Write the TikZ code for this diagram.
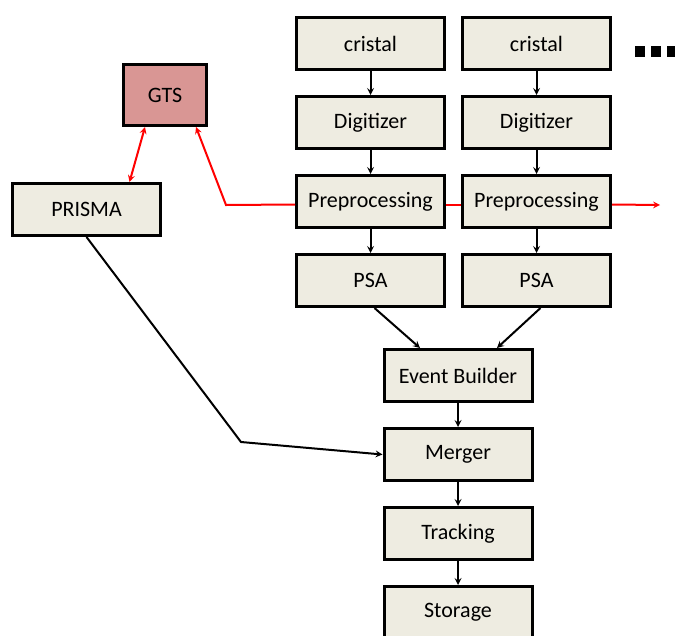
\documentclass[tikz,border=0pt]{standalone}
\usepackage{fontspec}
\setmainfont{Carlito}
\usetikzlibrary{arrows, positioning}
\definecolor{boxfill}{HTML}{EEECE1}
\definecolor{gtsfill}{HTML}{D99694}
\tikzstyle{graybox} = [rectangle, minimum width=148pt, minimum height=52pt, line width=3pt, draw=black, fill=boxfill, font=\fontsize{22}{26}\selectfont]
\tikzstyle{gtsbox} = [rectangle, minimum width=83pt, minimum height=61pt, line width=3pt, draw=black, fill=gtsfill, font=\fontsize{22}{26}\selectfont]
\tikzstyle{arrow} = [line width=2pt,->,>=stealth]
\tikzstyle{redarrow} = [line width=2pt,->,>=stealth, red]
\begin{document}
\begin{tikzpicture}[x=1pt, y=-1pt, node distance=24pt]
      \useasboundingbox (0,0) rectangle (675,635);

      % detector chains
      \node (crisA) [graybox] at (370.5,43.5) {cristal};
      \node (digA) [graybox, below=of crisA] {Digitizer};
      \node (preA) [graybox, below=of digA] {Preprocessing};
      \node (psaA) [graybox, below=of preA] {PSA};
      \node (crisB) [graybox] at (536.5,43.5) {cristal};
      \node (digB) [graybox, below=of crisB] {Digitizer};
      \node (preB) [graybox, below=of digB] {Preprocessing};
      \node (psaB) [graybox, below=of preB] {PSA};

      % common part
      \node (event) [graybox] at (458,375.5) {Event Builder};
      \node (merger) [graybox, below=of event] {Merger};
      \node (tracking) [graybox, below=of merger] {Tracking};
      \node (storage) [graybox, below=of tracking] {Storage};

      \node (gts) [gtsbox] at (165,95) {GTS};
      \node (prisma) [graybox] at (86.5,209.5) {PRISMA};
      \coordinate (bend) at (241,442);
      \coordinate (corner) at (226,205);
      \coordinate (out) at (660,205);

      \foreach \x in {640,656,672}
        \fill (\x-5,46) rectangle (\x+5,57);

      \draw [arrow] (crisA) -- (digA);
      \draw [arrow] (digA) -- (preA);
      \draw [arrow] (preA) -- (psaA);
      \draw [arrow] (crisB) -- (digB);
      \draw [arrow] (digB) -- (preB);
      \draw [arrow] (preB) -- (psaB);
      \draw [arrow] ([xshift=4pt]psaA.south) -- ([xshift=-38pt]event.north);
      \draw [arrow] ([xshift=4pt]psaB.south) -- ([xshift=39pt]event.north);
      \draw [arrow] (event) -- (merger);
      \draw [arrow] (merger) -- (tracking);
      \draw [arrow] (tracking) -- (storage);
      \draw [arrow] (prisma.south) -- (bend) -- (merger.west);

      \draw [redarrow, <->] ([xshift=-20pt]gts.south) -- ([xshift=43pt]prisma.north);
      \draw [redarrow] ([yshift=-3pt]preA.west) -- (corner) -- ([xshift=31pt]gts.south);
      \draw [red, line width=2pt] ([yshift=-3pt]preA.east) -- ([yshift=-3pt]preB.west);
      \draw [redarrow] ([yshift=-3pt]preB.east) -- (out);
    \end{tikzpicture}
\end{document}
